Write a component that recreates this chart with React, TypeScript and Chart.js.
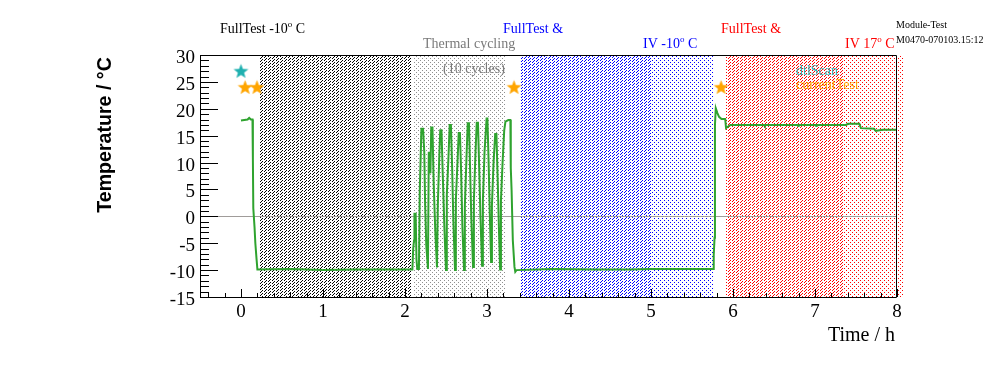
import { useEffect, useRef } from 'react';
import { Chart, registerables } from 'chart.js';

Chart.register(...registerables);

// ---- data ----
const timeH = [
  0.0, 0.04, 0.08, 0.1, 0.12, 0.14, 0.145, 0.15, 0.165, 0.175, 0.19, 0.2, 0.6, 1.0, 1.4, 1.8, 2.09,
  2.095, 2.1, 2.11, 2.115, 2.13, 2.14, 2.15, 2.17, 2.18, 2.2, 2.22, 2.235, 2.245, 2.26, 2.28,
  2.29, 2.31, 2.32, 2.335, 2.35, 2.37, 2.39,
  2.4, 2.42, 2.43, 2.445, 2.46, 2.48, 2.5,
  2.51, 2.53, 2.545, 2.56, 2.575, 2.59, 2.61,
  2.62, 2.64, 2.655, 2.67, 2.685, 2.7, 2.72,
  2.73, 2.75, 2.765, 2.78, 2.795, 2.81, 2.83,
  2.84, 2.86, 2.875, 2.89, 2.905, 2.92, 2.94,
  2.95, 2.97, 2.995, 3.005, 3.02, 3.035, 3.05,
  3.06, 3.08, 3.1, 3.115, 3.13, 3.145, 3.16,
  3.17, 3.19, 3.21, 3.225, 3.26, 3.285, 3.29, 3.3, 3.315, 3.335, 3.345, 3.36,
  3.8, 4.3, 4.75, 5.0, 5.4, 5.76,
  5.765, 5.775, 5.78, 5.79, 5.81, 5.83, 5.86, 5.905, 5.915, 5.94, 5.97,
  6.38, 6.385, 6.39, 6.79, 6.795, 6.8, 7.01, 7.015, 7.02, 7.38, 7.4, 7.54, 7.56, 7.72, 7.74, 7.83, 8.0,
];
const tempC = [
  17.8, 17.9, 18.0, 18.3, 18.0, 18.0, 10.5, 1.5, -2, -5, -8, -9.9, -9.8, -10.0, -9.9, -9.9, -9.9,
  -9.9, -6, -4.5, 0.5, 0.5, -8, -9.8, -9.8, 4.5, 16.3, 16.3, 12, 2.5, -5.5, -9.8,
  12, 8, 16.5, 16.5, 6, -3, -9.5,
  2, 12, 16, 16, 8, -2, -10,
  4, 11, 17, 17, 9, -1, -10,
  3, 10, 15.5, 15.5, 8, -2, -10,
  2, 11, 17.3, 17.3, 8, -1, -9.4,
  3, 12, 17.4, 17.4, 9, 0, -9.2,
  3, 12, 18.2, 18.2, 10, 0, -8.5,
  2, 10, 15.3, 15.3, 7, -2, -9.9,
  3, 10, 16, 17.6, 17.9, 17.9, 9, 4.8, -4.5, -9.4, -10.3, -10.0,
  -9.8, -9.9, -9.9, -9.8, -9.8, -9.8,
  -7.2, -4, 17, 20.1, 19.2, 18.5, 18.1, 18.1, 16.4, 16.7, 17.0,
  17.0, 16.8, 17.0, 17.0, 16.8, 17.0, 17.0, 16.8, 17.0, 17.0, 17.2, 17.2, 16.4, 16.3, 15.9, 16.1, 16.1,
];

const dtlScanT = [0.0];
const dtlScanV = [27.0];
const currentTestT = [0.05, 0.195, 3.33, 5.855];
const currentTestV = [24, 24, 24, 24];

// shaded test periods (hours)
const regionStart = [0.235, 2.1, 3.41, 5.01, 5.915, 7.35];
const regionEnd = [2.09, 3.23, 5.01, 5.76, 7.35, 8.085];
const regionGroup = ['cold', 'cycling', 'blue', 'blue', 'red', 'red'];
const regionKind = ['hatch', 'dots', 'hatch', 'dots', 'hatch', 'dots'];

const xTickValues = [0, 1, 2, 3, 4, 5, 6, 7, 8];
const yTickValues = [-15, -10, -5, 0, 5, 10, 15, 20, 25, 30];

// ---- styles ----
const groupColor: Record<string, string> = {
  cold: '#000000',
  cycling: '#8f8f8f',
  blue: '#0000ff',
  red: '#ff0000',
};
const SERIF = '"Liberation Serif", "Times New Roman", serif';
const SANS = '"Liberation Sans", Arial, sans-serif';

export default function App() {
  const ref = useRef<HTMLCanvasElement>(null);

  useEffect(() => {
    const canvas = ref.current!;

    const makeStar = (color: string) => {
      const s = 17;
      const c = document.createElement('canvas');
      c.width = s;
      c.height = s;
      const g = c.getContext('2d')!;
      g.fillStyle = color;
      g.beginPath();
      const R = 7.8;
      const r = 3.3;
      const cx = 8.5;
      const cy = 9;
      for (let i = 0; i < 10; i++) {
        const a = -Math.PI / 2 + (i * Math.PI) / 5;
        const rad = i % 2 === 0 ? R : r;
        const x = cx + rad * Math.cos(a);
        const y = cy + rad * Math.sin(a);
        if (i === 0) g.moveTo(x, y);
        else g.lineTo(x, y);
      }
      g.closePath();
      g.fill();
      return c;
    };

    const tealStar = makeStar('#1fb0b0');
    const orangeStar = makeStar('#ffa500');

    const regionsPlugin = {
      id: 'regions',
      beforeDatasetsDraw(chart: any) {
        const { ctx, chartArea, scales } = chart;
        const xs = scales.x;
        const ys = scales.y;
        ctx.save();
        const top = Math.round(chartArea.top) + 1;
        const bot = Math.round(chartArea.bottom);
        for (let i = 0; i < regionStart.length; i++) {
          const x0 = Math.round(xs.getPixelForValue(regionStart[i]));
          const x1 = Math.round(xs.getPixelForValue(regionEnd[i]));
          ctx.fillStyle = groupColor[regionGroup[i]];
          const hatch = regionKind[i] === 'hatch';
          for (let y = top; y < bot; y++) {
            for (let x = x0; x < x1; x++) {
              let on: boolean;
              if (hatch) {
                on = (x + y) % 3 === 0 && x % 4 !== 3;
              } else {
                on = (x % 4 === 0 && y % 4 === 0) || (x % 4 === 2 && y % 4 === 2);
              }
              if (on) ctx.fillRect(x, y, 1, 1);
            }
          }
        }
        // zero line
        const y0 = Math.round(ys.getPixelForValue(0)) + 0.5;
        ctx.strokeStyle = '#a09c9a';
        ctx.lineWidth = 1;
        ctx.beginPath();
        ctx.moveTo(chartArea.left, y0);
        ctx.lineTo(chartArea.right, y0);
        ctx.stroke();
        ctx.restore();
      },
      afterDatasetsDraw(chart: any) {
        const { ctx, chartArea, scales } = chart;
        const xs = scales.x;
        const ys = scales.y;
        const L = chartArea.left;
        const B = chartArea.bottom;
        ctx.save();
        ctx.strokeStyle = '#000';
        ctx.lineWidth = 1;
        ctx.beginPath();
        ctx.rect(Math.round(L) + 0.5, Math.round(chartArea.top) + 0.5,
          Math.round(chartArea.right - L) - 1, Math.round(B - chartArea.top));
        ctx.stroke();
        ctx.beginPath();
        // y ticks (inside)
        for (let v = ys.min; v <= ys.max + 1e-9; v += 1) {
          const y = Math.round(ys.getPixelForValue(v)) + 0.5;
          const len = Math.abs(v % 5) < 1e-9 ? 18 : 9;
          ctx.moveTo(L, y);
          ctx.lineTo(L + len, y);
        }
        // x ticks (inside)
        for (let k = -2; k <= 40; k++) {
          const v = k * 0.2;
          const x = Math.round(xs.getPixelForValue(v)) + 0.5;
          const len = k % 5 === 0 ? 8 : 4;
          ctx.moveTo(x, B);
          ctx.lineTo(x, B - len);
        }
        ctx.stroke();
        ctx.restore();
      },
      afterDraw(chart: any) {
        const { ctx } = chart;
        ctx.save();
        ctx.textBaseline = 'alphabetic';
        ctx.textAlign = 'left';
        const draw = (parts: [string, boolean][], x: number, y: number, color: string, size: number) => {
          ctx.fillStyle = color;
          let cx = x;
          for (const [t, sup] of parts) {
            if (sup) {
              ctx.font = `${Math.round(size * 0.62)}px ${SERIF}`;
              ctx.fillText(t, cx, y - size * 0.42);
            } else {
              ctx.font = `${size}px ${SERIF}`;
              ctx.fillText(t, cx, y);
            }
            cx += ctx.measureText(t).width;
          }
        };
        draw([['FullTest -10', false], ['o', true], [' C', false]], 220, 33, '#000', 14);
        draw([['Thermal cycling', false]], 423, 48, '#7a7a7a', 14);
        draw([['(10 cycles)', false]], 443, 73, '#7a7a7a', 14);
        draw([['FullTest &', false]], 503, 33, '#0000ff', 14);
        draw([['IV -10', false], ['o', true], [' C', false]], 643, 48, '#0000ff', 14);
        draw([['FullTest &', false]], 721, 33, '#ff0000', 14);
        draw([['IV 17', false], ['o', true], [' C', false]], 845, 48, '#ff0000', 14);
        draw([['Module-Test', false]], 896, 28, '#000', 10);
        draw([['M0470-070103.15:12', false]], 896, 43, '#000', 10);
        draw([['dtlScan', false]], 796, 75, '#33b3b3', 14);
        draw([['currentTest', false]], 796, 89, '#ffaa00', 14);

        // axis titles
        ctx.fillStyle = '#000';
        ctx.font = `20px ${SERIF}`;
        ctx.textAlign = 'right';
        ctx.fillText('Time / h', 895, 341);

        ctx.translate(111, 135);
        ctx.rotate(-Math.PI / 2);
        ctx.textAlign = 'center';
        ctx.font = `bold 19.6px ${SANS}`;
        ctx.fillText('Temperature / °C', 0, 0);
        ctx.restore();
      },
    };

    const chart = new Chart(canvas, {
      type: 'scatter',
      data: {
        datasets: [
          {
            label: 'dtlScan',
            data: dtlScanT.map((t, i) => ({ x: t, y: dtlScanV[i] })),
            pointStyle: tealStar as any,
            pointRadius: 8,
            clip: false as any,
          },
          {
            label: 'currentTest',
            data: currentTestT.map((t, i) => ({ x: t, y: currentTestV[i] })),
            pointStyle: orangeStar as any,
            pointRadius: 8,
            clip: false as any,
          },
          {
            label: 'Temperature',
            data: timeH.map((t, i) => ({ x: t, y: tempC[i] })),
            showLine: true,
            borderColor: '#2fa32f',
            borderWidth: 2,
            pointRadius: 0,
            tension: 0,
            fill: false,
          } as any,
        ],
      },
      options: {
        responsive: false,
        animation: false,
        devicePixelRatio: 1,
        layout: { padding: { left: 0, right: 99, top: 55, bottom: 0 } },
        plugins: { legend: { display: false }, tooltip: { enabled: false } },
        scales: {
          x: {
            type: 'linear',
            min: -0.5,
            max: 8,
            grid: { display: false, drawTicks: false },
            border: { display: false },
            afterBuildTicks: (scale: any) => {
              scale.ticks = xTickValues.map((v) => ({ value: v }));
            },
            afterFit: (scale: any) => {
              scale.height = 75;
            },
            ticks: {
              color: '#000',
              font: { family: SERIF, size: 19 },
              padding: 4,
              maxRotation: 0,
              autoSkip: false,
            },
          },
          y: {
            type: 'linear',
            min: -15,
            max: 30,
            grid: { display: false, drawTicks: false },
            border: { display: false },
            afterBuildTicks: (scale: any) => {
              scale.ticks = yTickValues.map((v) => ({ value: v }));
            },
            afterFit: (scale: any) => {
              scale.width = 200;
            },
            ticks: {
              color: '#000',
              font: { family: SERIF, size: 19 },
              padding: 5,
              labelOffset: 3,
              autoSkip: false,
            },
          },
        },
      },
      plugins: [regionsPlugin],
    });

    return () => chart.destroy();
  }, []);

  return (
    <div style={{ position: 'fixed', left: 0, top: 0, width: 996, height: 372, background: '#fff' }}>
      <canvas ref={ref} width={996} height={372} style={{ display: 'block' }} />
    </div>
  );
}
